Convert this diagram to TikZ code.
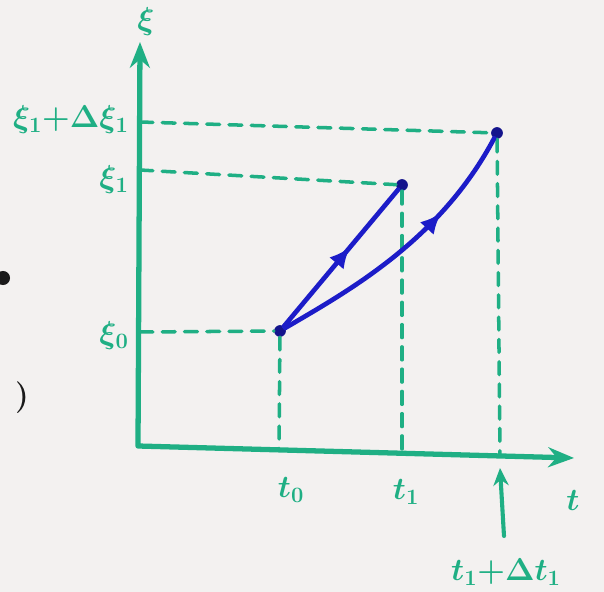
\documentclass[tikz,border=0pt]{standalone}
\usetikzlibrary{arrows.meta, calc, positioning, decorations.markings}
\definecolor{sk-green}{HTML}{1FAF84}
\definecolor{sk-blue}{HTML}{1C1CC8}
\definecolor{sk-ink}{HTML}{1A1A1A}
\definecolor{sk-paper}{HTML}{F3F1F0}
\tikzset{
  axis/.style={sk-green, line width=4.5pt},
  guide/.style={sk-green, line width=3pt, dash pattern=on 11pt off 8pt},
  track/.style={sk-blue, line width=4pt, line cap=round, postaction={decorate},
    decoration={markings, mark=at position #1 with {\arrow{Latex[length=18pt,width=16pt]}}}},
  dot/.style={circle, fill=sk-blue!70!black, inner sep=0pt, minimum size=10pt},
  lbl/.style={sk-green, font=\huge\boldmath, scale=1.3},
}
\begin{document}
\begin{tikzpicture}[x=0.03cm, y=-0.03cm, line cap=round, line join=round]
  \fill[sk-paper] (0,0) rectangle (604,592);
  \useasboundingbox (0,0) rectangle (604,592);
  % achsen
  \coordinate (o) at (138,446);
  \coordinate (ytip) at (140,42);
  \coordinate (xtip) at (574,458);
  \draw[axis, {Stealth[length=22pt,width=17pt]}-{Stealth[length=22pt,width=17pt]}] (ytip) -- (o) -- (xtip);
  % marken
  \coordinate (xi2) at (140,122);
  \coordinate (xi1) at (140,170);
  \coordinate (xi0) at (140,332);
  \coordinate (t0) at (279,450);
  \coordinate (t1) at (402,453);
  \coordinate (t2) at (500,456);
  % punkte
  \node[dot] (p0) at (280,331) {};
  \node[dot] (p1) at (402,185) {};
  \node[dot] (p2) at (497,133) {};
  % hilfslinien
  \draw[guide] (xi2) -- (p2);
  \draw[guide] (xi1) -- (p1);
  \draw[guide] (xi0) -- (p0);
  \draw[guide] (p0) -- (t0);
  \draw[guide] (p1) -- (t1);
  \draw[guide] (p2) -- (t2);
  % bahnen
  \draw[track=0.58] (p0) -- (p1);
  \draw[track=0.68] (p0) .. controls (350,290) and (440,240) .. (p2);
  % beschriftung
  \node[lbl] (lxi) at (146,22) {$\xi$};
  \node[lbl, anchor=east] (lxi2) at (134,120) {$\xi_1{+}\Delta\xi_1$};
  \node[lbl, anchor=east] (lxi1) at (134,180) {$\xi_1$};
  \node[lbl, anchor=east] (lxi0) at (134,336) {$\xi_0$};
  \node[lbl] (lt0) at (291,490) {$t_0$};
  \node[lbl] (lt1) at (406,492) {$t_1$};
  \node[lbl] (lt) at (573,500) {$t$};
  \node[lbl] (ldt) at (506,572) {$t_1{+}\Delta t_1$};
  \draw[sk-green, line width=3.5pt, -{Stealth[length=15pt,width=13pt]}] (504,536) -- ($(t2)+(0,12)$);
  % reste vom blatt
  \node[circle, fill=sk-ink, inner sep=0pt, minimum size=12pt] (blot) at (3,278) {};
  \node[sk-ink, font=\huge\bfseries, scale=1.3] (paren) at (22,398) {)};
\end{tikzpicture}
\end{document}
